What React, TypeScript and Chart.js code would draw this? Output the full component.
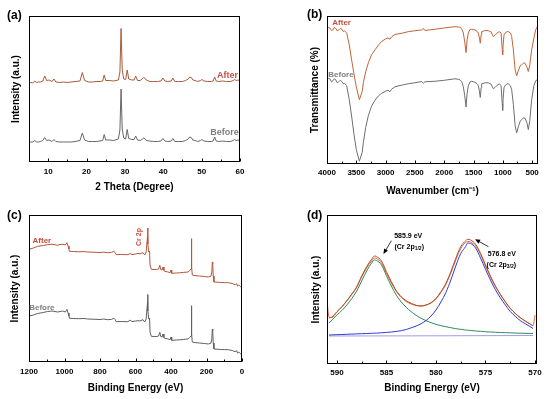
import React, { useEffect, useRef } from 'react';
import { Chart, registerables } from 'chart.js';
Chart.register(...registerables);

const FONT = '"Liberation Sans", Arial, Helvetica, sans-serif';
Chart.defaults.font.family = FONT;
Chart.defaults.color = '#000';

// ---------- (a) XRD ----------
const xrdTheta = [5, 5.5, 6, 6.5, 7, 7.5, 8, 8.6, 9.1, 9.6, 10.2, 11, 11.5, 12, 13, 14, 15, 16, 17, 18.3, 18.9, 19.5, 20.5, 21.5, 22.5, 23.5, 24.2, 24.6, 25, 26, 27, 28.3, 28.7, 29.0, 29.3, 29.7, 30.2, 30.6, 31, 31.8, 32.4, 32.8, 33.3, 34, 34.6, 34.9, 35.3, 35.6, 36.5, 37.5, 38.5, 39.4, 39.9, 40.4, 41.2, 42.1, 42.5, 43, 44, 45, 45.8, 46.5, 46.9, 47.3, 47.7, 48.3, 49, 49.7, 50.1, 50.6, 51.5, 52.5, 53, 53.4, 53.8, 54.5, 55.5, 56.5, 57.5, 58.2, 58.6, 59, 59.5, 60];
const xrdAfter = [79, 79.5, 79, 81, 79.5, 80, 80, 81, 86, 81.5, 82, 80.5, 83, 80, 79.5, 80, 79.5, 80, 80.5, 81, 89.5, 81.5, 80, 80, 80.5, 80.5, 81, 87, 81.5, 81.5, 81, 82, 90, 133.5, 92, 83, 82.5, 92, 83, 82, 82, 86, 81.5, 81.5, 83.5, 84.5, 83.5, 82, 80.5, 80.5, 80.5, 81, 84, 81, 80.5, 81, 84, 80.5, 80.5, 80.5, 81.5, 83, 85, 84.5, 82, 81.5, 80.5, 81.5, 82.5, 81, 80.5, 80.5, 81, 85, 81, 80.5, 81, 80.5, 80.5, 81.5, 82.5, 81.5, 82, 81.5];
const xrdBefore = [19.5, 20, 20, 21.5, 20, 20, 20.5, 21.5, 24.5, 21.5, 22, 20.5, 22.5, 20.5, 20, 20, 20, 20, 20.5, 21.5, 29, 22, 20.5, 20.5, 20.5, 21, 21.5, 27.5, 22, 22, 21.5, 23, 32, 73, 33, 24, 23, 32.5, 23.5, 22.5, 22.5, 26, 22, 21.5, 23, 24, 23, 21.5, 21, 20.5, 20.5, 21, 23.5, 21, 20.5, 21, 23.5, 20.5, 20.5, 20.5, 21.5, 23, 25, 24.5, 22, 21.5, 20.5, 21.5, 22.5, 21, 20.5, 20.5, 21, 25, 21, 20.5, 21, 20.5, 20.5, 21.5, 22.5, 21.5, 22, 21.5];
const xrdTicks = [10, 20, 30, 40, 50, 60];
const xrdMinor = [15, 25, 35, 45, 55];

// ---------- (b) FTIR ----------
const irWave = [4000, 3975, 3950, 3925, 3900, 3875, 3850, 3825, 3800, 3775, 3750, 3725, 3700, 3664, 3620, 3580, 3540, 3500, 3448, 3400, 3380, 3340, 3295, 3240, 3181, 3120, 3067, 3000, 2960, 2925, 2900, 2840, 2700, 2612, 2500, 2385, 2356, 2330, 2157, 2000, 1816, 1760, 1731, 1700, 1674, 1650, 1628, 1610, 1589, 1560, 1532, 1500, 1475, 1430, 1418, 1400, 1385, 1370, 1361, 1300, 1247, 1200, 1162, 1130, 1105, 1060, 1030, 1010, 1003, 995, 980, 963, 930, 906, 870, 849, 820, 790, 764, 730, 700, 679, 650, 622, 590, 565, 540, 508, 470, 440, 412, 400];
const irAfter = [135.5, 137, 136.5, 134, 134.5, 137, 136, 133.5, 134.5, 136, 135.5, 133, 133.5, 131.5, 119.5, 104.5, 90.5, 77.5, 64.5, 72.5, 81.5, 92.5, 101.5, 109.5, 114.5, 119.5, 123, 125.5, 126.5, 125.2, 127.5, 130, 131.5, 132.8, 133.7, 134.5, 136, 134, 135.2, 136.5, 137.8, 137.5, 137.2, 135.5, 131.5, 122.5, 111.8, 124.5, 131.5, 135, 135.2, 135, 134.5, 132.5, 131.2, 126.5, 121.2, 129.5, 132.8, 134, 133.8, 132.5, 127.8, 129.5, 131.2, 132.8, 131.5, 114.5, 109.5, 119.5, 129.5, 131.2, 132.8, 132.8, 131.5, 127.8, 114.5, 94.5, 88.5, 94.5, 99, 99.5, 101.2, 101.2, 97.5, 92.8, 99.5, 114.5, 126.5, 134.5, 137.8, 139.5];
const irBefore = [84.5, 86, 85.5, 82.5, 83.5, 85.5, 84.5, 81.5, 82.5, 84, 83, 80.5, 81, 78.5, 64.5, 48, 30, 14.5, 2.8, 11.5, 21.5, 36.5, 48.5, 58, 64, 68.5, 71, 73, 74, 72.5, 75, 77.5, 79.5, 80.5, 81.5, 82.8, 81, 82.5, 83, 84, 85.5, 85, 84.5, 82.5, 77.5, 68.5, 57.2, 70.5, 78.5, 82.5, 83, 82.5, 82, 80, 78.5, 73.5, 66.8, 76.5, 80.5, 81.5, 81.5, 80, 75.5, 77, 78.5, 80.5, 78.5, 60.5, 53.8, 65.5, 76.5, 78.5, 80.5, 80.5, 78.5, 74.5, 59.5, 38.5, 31.2, 38.5, 43.5, 44.5, 46.2, 46, 41.5, 34.5, 43.5, 64.5, 78.5, 83.5, 84.5, 86.5];
const irTicks = [4000, 3500, 3000, 2500, 2000, 1500, 1000, 500];
const irMinor = [3750, 3250, 2750, 2250, 1750, 1250, 750];

// ---------- (c) XPS survey ----------
const surveyEnergy = [1200, 1175, 1152, 1120, 1095, 1070, 1039, 1025, 1010, 995, 986, 980, 975, 972, 950, 920, 890, 869, 840, 800, 780, 756, 735, 722, 715, 709, 680, 643, 630, 620, 600, 586, 575, 558, 548, 540, 532, 531, 530, 525, 521, 518, 511, 495, 480, 470, 463, 458, 450, 445, 440, 435, 420, 405, 400, 396, 370, 350, 330, 303, 295, 287, 285, 283, 280, 270, 240, 210, 190, 175, 170, 167, 165, 162, 158, 140, 120, 100, 77, 55, 39, 30, 25, 18, 10, 0];
const surveyAfter = [112.7, 114, 115.7, 116.5, 117.3, 117.8, 116.7, 117.5, 117.7, 117, 119.3, 116, 113, 110.7, 110.5, 110.2, 110.4, 110, 109.8, 109.5, 109.8, 109.3, 109.6, 110.7, 109.5, 107.3, 107.5, 107.3, 108.5, 107.4, 108, 108.6, 108.2, 109.3, 107, 110, 126, 134, 118, 110, 111, 97, 92.7, 92.5, 92.5, 93, 96.7, 92.5, 92, 95, 91.5, 90.7, 90.2, 89.3, 92, 88.7, 89, 89.2, 89.6, 90, 91.5, 93, 123.3, 95, 87, 86.5, 86, 85.5, 85, 85.8, 90, 100, 98, 86, 80, 79.8, 79.5, 79.4, 79.3, 78.5, 77.3, 78.3, 76, 77, 75.5, 74];
const surveyBefore = [46, 47, 48.5, 49.5, 50.5, 51, 50, 50.5, 51, 50, 52.7, 49, 46, 43.7, 43.5, 43.3, 43.5, 43, 42.8, 42.5, 43, 42.3, 42.6, 43.8, 42.5, 40.3, 40.5, 40.3, 41.8, 40.4, 41, 41.3, 41, 42.3, 40, 43, 60, 67.5, 51, 43, 44, 30, 25.7, 25.5, 25.5, 26, 29.7, 25.5, 25, 28, 24.5, 23.7, 23.2, 22.3, 25, 21.7, 22, 22.2, 22.6, 23, 24.5, 26, 56.3, 28, 20, 19.5, 19, 18.5, 18, 18.8, 23, 33, 31, 19, 13, 12.8, 12.5, 12.4, 12.3, 11.5, 10.3, 11.3, 9, 10, 8.5, 7];
const surveyTicks = [1200, 1000, 800, 600, 400, 200, 0];
const surveyMinor = [1100, 900, 700, 500, 300, 100];

// ---------- (d) Cr 2p ----------
const crEnergy = [591, 590.8, 590.5, 590, 589.5, 589, 588.5, 588, 587.5, 587, 586.5, 586.2, 586, 585.5, 585, 584.5, 584, 583.5, 583, 582.5, 582, 581.5, 581, 580.5, 580, 579.5, 579, 578.5, 578, 577.5, 577, 576.8, 576.5, 576, 575.5, 575, 574.5, 574, 573.5, 573, 572.5, 572, 571.5, 571, 570.5, 570.2, 570];
const crRaw = [64, 47, 46.5, 52, 57, 63, 69.5, 76.5, 87, 96, 103, 106, 105.5, 101, 90.5, 81, 72.5, 66.5, 62.5, 60, 58.5, 58, 59, 61, 65, 71.5, 79.5, 91, 104, 115.5, 121.5, 122.5, 122, 118, 109.5, 98, 87, 77.5, 69.5, 62, 55.5, 50.5, 46.5, 43, 40, 38.5, 49];
const crEnvelope = [null, 46, 47, 52.3, 57.3, 63.3, 70, 77.3, 88, 97.3, 104.7, 108, 107.3, 103, 92.3, 82.3, 73.3, 67.3, 63.3, 60.7, 58.7, 58, 59, 61.3, 65.7, 72.3, 80.7, 92.3, 105.7, 117.3, 123.3, 124.7, 124, 119.7, 110.7, 99, 88, 78, 69.7, 62.3, 55.7, 50.7, 46.3, 43, 40, 38, null];
const crP12 = [null, 41, 44, 49, 53.5, 59, 65.5, 73, 83, 93, 101, 104, 103.5, 99, 88.3, 78, 68.8, 62, 56.7, 52.3, 48.7, 45.7, 43.3, 41.3, 39.7, 38.3, 37.3, 36.3, 35.3, 34.7, 34, 33.8, 33.5, 33, 32.7, 32.3, 32, 31.7, 31.5, 31.3, 31.2, 31, 30.8, 30.7, 30.6, 30.5, null];
const crP32 = [null, 29, 29.1, 29.3, 29.5, 29.7, 29.9, 30.1, 30.3, 30.5, 30.7, 30.8, 30.9, 31.2, 31.6, 32, 32.6, 33.3, 34.5, 36.2, 38, 40.3, 43.5, 48, 54, 62, 71.5, 84, 98, 110.5, 117.5, 121, 120.5, 116, 106, 94.7, 84, 74.3, 66.2, 59, 52.5, 47.7, 43.5, 40.3, 37.4, 35.5, null];
const crBgEnergy = [590.8, 580, 570.2];
const crBg = [28, 28.2, 28.5];
const crTicks = [590, 585, 580, 575, 570];
const crMinor = [587.5, 582.5, 577.5, 572.5];

// ---------- helpers ----------
const pts = (xs: number[], ys: (number | null)[]) =>
  xs.map((x, i) => ({ x, y: ys[i] })).filter((p) => p.y !== null && p.y !== undefined);

const line = (label: string, xs: number[], ys: (number | null)[], color: string, extra: any = {}) => ({
  label,
  data: pts(xs, ys),
  borderColor: color,
  backgroundColor: color,
  borderWidth: 1,
  pointRadius: 0,
  fill: false,
  ...extra,
});

type Part = { t: string; s: number; dy?: number };
type Note = { x: number; y: number; color: string; parts: Part[]; align: 'left' | 'right' | 'center'; rotate?: boolean };
type Arrow = { x1: number; y1: number; x2: number; y2: number };

const note = (x: number, y: number, text: string, color: string, size: number, align: 'left' | 'right' | 'center', rotate = false): Note => ({
  x, y, color, parts: [{ t: text, s: size }], align, rotate,
});

function makeDecor(cfg: any) {
  return {
    id: 'decor' + cfg.letter,
    afterDatasetsDraw(chart: any) {
      const { ctx, chartArea: a, scales } = chart;
      const xs = scales.x;
      const ys = scales.y;
      ctx.save();
      // frame
      ctx.strokeStyle = '#000';
      ctx.lineWidth = 1;
      const L = Math.round(a.left) + 0.5;
      const T = Math.round(a.top) + 0.5;
      const R = Math.round(a.right) - 0.5;
      const B = Math.round(a.bottom) - 0.5;
      ctx.strokeRect(L, T, R - L, B - T);
      // inward ticks on bottom axis
      ctx.beginPath();
      for (const v of cfg.major) {
        const px = Math.round(xs.getPixelForValue(v)) + 0.5;
        ctx.moveTo(px, B);
        ctx.lineTo(px, B - 3);
      }
      for (const v of cfg.minor) {
        const px = Math.round(xs.getPixelForValue(v)) + 0.5;
        ctx.moveTo(px, B);
        ctx.lineTo(px, B - 2);
      }
      ctx.stroke();
      // notes
      ctx.textBaseline = 'middle';
      for (const n of cfg.notes as Note[]) {
        const px = xs.getPixelForValue(n.x);
        const py = ys.getPixelForValue(n.y);
        ctx.fillStyle = n.color;
        let total = 0;
        for (const p of n.parts) {
          ctx.font = `bold ${p.s}px ${FONT}`;
          total += ctx.measureText(p.t).width;
        }
        ctx.save();
        ctx.translate(px, py);
        if (n.rotate) ctx.rotate(-Math.PI / 2);
        let start = n.align === 'left' ? 0 : n.align === 'right' ? -total : -total / 2;
        ctx.textAlign = 'left';
        for (const p of n.parts) {
          ctx.font = `bold ${p.s}px ${FONT}`;
          ctx.fillText(p.t, start, p.dy || 0);
          start += ctx.measureText(p.t).width;
        }
        ctx.restore();
      }
      // arrows
      ctx.strokeStyle = '#000';
      ctx.fillStyle = '#000';
      ctx.lineWidth = 0.8;
      for (const ar of cfg.arrows as Arrow[]) {
        const x1 = xs.getPixelForValue(ar.x1);
        const y1 = ys.getPixelForValue(ar.y1);
        const x2 = xs.getPixelForValue(ar.x2);
        const y2 = ys.getPixelForValue(ar.y2);
        const ang = Math.atan2(y2 - y1, x2 - x1);
        ctx.beginPath();
        ctx.moveTo(x1, y1);
        ctx.lineTo(x2 - 3 * Math.cos(ang), y2 - 3 * Math.sin(ang));
        ctx.stroke();
        ctx.beginPath();
        ctx.moveTo(x2, y2);
        ctx.lineTo(x2 - 5 * Math.cos(ang) + 2.2 * Math.sin(ang), y2 - 5 * Math.sin(ang) - 2.2 * Math.cos(ang));
        ctx.lineTo(x2 - 5 * Math.cos(ang) - 2.2 * Math.sin(ang), y2 - 5 * Math.sin(ang) + 2.2 * Math.cos(ang));
        ctx.closePath();
        ctx.fill();
      }
      // panel letter
      ctx.fillStyle = '#000';
      ctx.font = `bold 12px ${FONT}`;
      ctx.textAlign = 'left';
      ctx.textBaseline = 'middle';
      ctx.fillText(`(${cfg.letter})`, cfg.letterX, cfg.letterY);
      ctx.restore();
    },
  };
}

const AFTER_TXT = '#c0504d';
const BEFORE_TXT = '#808080';

const panels = [
  {
    letter: 'a', left: 0, top: 0, w: 275, h: 200,
    padTop: 16, padRight: 35, yW: 29, xH: 38,
    xMin: 5, xMax: 60, reverse: false, yMax: 146,
    major: xrdTicks, minor: xrdMinor, tickPad: 5,
    xTitle: '2 Theta (Degree)', xTitlePad: 7,
    yTitle: 'Intensity (a.u.)', yTitlePad: 10,
    letterX: 7, letterY: 16, monotone: false,
    datasets: [
      line('After', xrdTheta, xrdAfter, '#a65a3a'),
      line('Before', xrdTheta, xrdBefore, '#666666'),
    ],
    notes: [
      note(59.5, 86, 'After', AFTER_TXT, 9, 'right'),
      note(59.7, 29, 'Before', BEFORE_TXT, 9, 'right'),
    ],
    arrows: [],
  },
  {
    letter: 'b', left: 275, top: 0, w: 275, h: 200,
    padTop: 16, padRight: 12, yW: 52, xH: 36,
    xMin: 400, xMax: 4000, reverse: true, yMax: 148.5,
    major: irTicks, minor: irMinor, tickPad: 4,
    xTitle: 'Wavenumber (cm\u207B\u00B9)', xTitlePad: 3,
    yTitle: 'Transmittance (%)', yTitlePad: 34,
    letterX: 32, letterY: 15, monotone: false,
    datasets: [
      line('After', irWave, irAfter, '#c0643a'),
      line('Before', irWave, irBefore, '#6e6e6e'),
    ],
    notes: [
      note(3910, 141.8, 'After', '#c8503a', 8, 'left'),
      note(3978, 89.5, 'Before', BEFORE_TXT, 8, 'left'),
    ],
    arrows: [],
  },
  {
    letter: 'c', left: 0, top: 200, w: 275, h: 199,
    padTop: 15, padRight: 33, yW: 29, xH: 37,
    xMin: 0, xMax: 1200, reverse: true, yMax: 147,
    major: surveyTicks, minor: surveyMinor, tickPad: 5,
    xTitle: 'Binding Energy (eV)', xTitlePad: 5,
    yTitle: 'Intensity (a.u.)', yTitlePad: 9,
    letterX: 7, letterY: 16, monotone: false,
    datasets: [
      line('After', surveyEnergy, surveyAfter, '#b5543a'),
      line('Before', surveyEnergy, surveyBefore, '#5f5f5f'),
    ],
    notes: [
      note(1180, 121.7, 'After', '#c84a3a', 8, 'left'),
      note(1199, 54.3, 'Before', BEFORE_TXT, 8, 'left'),
      note(580, 125, 'Cr 2p', '#d0503c', 7, 'center', true),
    ],
    arrows: [],
  },
  {
    letter: 'd', left: 275, top: 200, w: 275, h: 199,
    padTop: 15, padRight: 13, yW: 52, xH: 35,
    xMin: 569.8, xMax: 591, reverse: true, yMax: 149,
    major: crTicks, minor: crMinor, tickPad: 4,
    xTitle: 'Binding Energy (eV)', xTitlePad: 5,
    yTitle: 'Intensity (a.u.)', yTitlePad: 35,
    letterX: 32, letterY: 16, monotone: true,
    datasets: [
      line('Envelope', crEnergy, crEnvelope, '#a0522d'),
      line('Raw', crEnergy, crRaw, '#e8643c'),
      line('Cr 2p3/2', crEnergy, crP32, '#2b3bd6'),
      line('Cr 2p1/2', crEnergy, crP12, '#2e8b57'),
      line('Background', crBgEnergy, crBg, '#a49be8'),
    ],
    notes: [
      note(582.8, 128, '585.9 eV', '#000', 7, 'center'),
      { x: 582.7, y: 117.3, color: '#000', align: 'center', parts: [{ t: '(Cr 2p', s: 7 }, { t: '1/2', s: 5, dy: 1.5 }, { t: ')', s: 7 }] },
      note(573.35, 110, '576.8 eV', '#000', 7, 'center'),
      { x: 573.4, y: 99, color: '#000', align: 'center', parts: [{ t: '(Cr 2p', s: 7 }, { t: '3/2', s: 5, dy: 1.5 }, { t: ')', s: 7 }] },
    ],
    arrows: [
      { x1: 584.5, y1: 123.3, x2: 585.3, y2: 110 },
      { x1: 574.7, y1: 117.3, x2: 576.05, y2: 124.7 },
    ],
  },
];

function Panel({ cfg }: { cfg: any }) {
  const ref = useRef<HTMLCanvasElement>(null);
  useEffect(() => {
    const titleFont = { size: 10, weight: 'bold' as const, family: FONT };
    const chart = new Chart(ref.current as HTMLCanvasElement, {
      type: 'line',
      data: { datasets: cfg.datasets },
      options: {
        animation: false,
        responsive: false,
        devicePixelRatio: 1,
        layout: { padding: { top: cfg.padTop, right: cfg.padRight, left: 0, bottom: 0 } },
        plugins: { legend: { display: false }, tooltip: { enabled: false } },
        elements: {
          point: { radius: 0 },
          line: { borderWidth: 1, tension: 0, cubicInterpolationMode: cfg.monotone ? 'monotone' : 'default' },
        },
        scales: {
          x: {
            type: 'linear',
            min: cfg.xMin,
            max: cfg.xMax,
            reverse: cfg.reverse,
            grid: { display: false, drawTicks: false },
            border: { display: false },
            afterBuildTicks: (s: any) => {
              s.ticks = cfg.major.map((v: number) => ({ value: v }));
            },
            afterFit: (s: any) => {
              s.height = cfg.xH;
            },
            ticks: {
              autoSkip: false,
              maxRotation: 0,
              padding: cfg.tickPad,
              color: '#000',
              font: { size: 8, weight: 'bold', family: FONT },
              callback: (v: any) => String(v),
            },
            title: {
              display: true,
              text: cfg.xTitle,
              color: '#000',
              font: titleFont,
              padding: { top: 0, bottom: cfg.xTitlePad },
            },
          },
          y: {
            type: 'linear',
            min: 0,
            max: cfg.yMax,
            grid: { display: false, drawTicks: false },
            border: { display: false },
            ticks: { display: false },
            afterFit: (s: any) => {
              s.width = cfg.yW;
            },
            title: {
              display: true,
              text: cfg.yTitle,
              color: '#000',
              font: titleFont,
              padding: { top: cfg.yTitlePad, bottom: 0 },
            },
          },
        },
      } as any,
      plugins: [makeDecor(cfg)],
    });
    return () => chart.destroy();
  }, [cfg]);
  return (
    <canvas
      ref={ref}
      width={cfg.w}
      height={cfg.h}
      style={{ position: 'absolute', left: cfg.left, top: cfg.top, width: cfg.w, height: cfg.h, display: 'block' }}
    />
  );
}

export default function App() {
  return (
    <div style={{ position: 'absolute', left: 0, top: 0, width: 550, height: 399, background: '#fff', overflow: 'hidden' }}>
      {panels.map((p) => (
        <Panel key={p.letter} cfg={p} />
      ))}
    </div>
  );
}
